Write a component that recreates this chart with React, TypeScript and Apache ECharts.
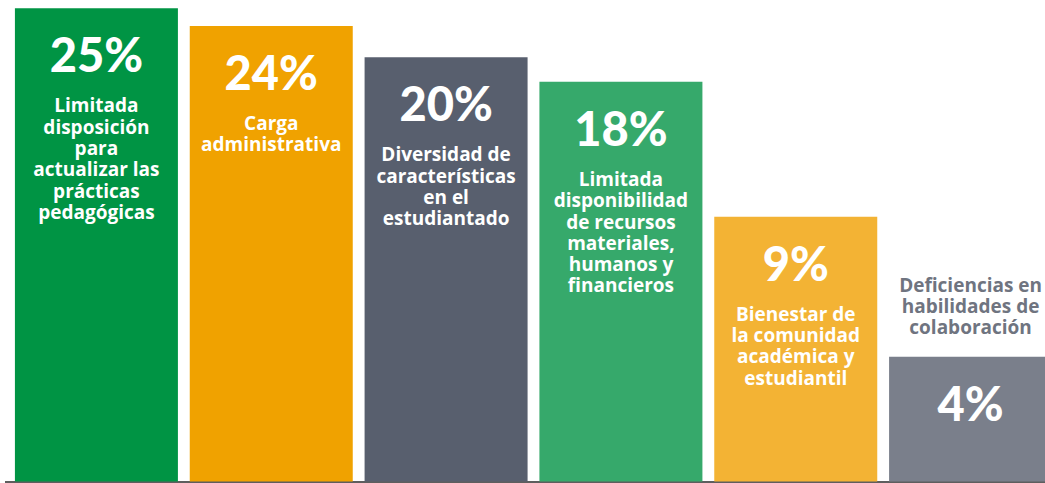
import React, { useEffect, useRef } from "react";
import * as echarts from "echarts";

// Percent values shown on each bar
const percents: number[] = [25, 24, 20, 18, 9, 4];
// Visual bar levels (0-100 scale) as drawn in the reference
const barLevels: number[] = [98.3, 94.6, 88.1, 83.0, 55.0, 25.9];
const categories: string[][] = [
  ["Limitada", "disposición", "para", "actualizar las", "prácticas", "pedagógicas"],
  ["Carga", "administrativa"],
  ["Diversidad de", "características", "en el", "estudiantado"],
  ["Limitada", "disponibilidad", "de recursos", "materiales,", "humanos y", "financieros"],
  ["Bienestar de", "la comunidad", "académica y", "estudiantil"],
  ["Deficiencias en", "habilidades de", "colaboración"],
];
const barColors: string[] = ["#009444", "#F0A200", "#585F6E", "#36A96B", "#F3B334", "#7A7F8B"];

const PFONT = "Lato";
const DFONT = "Open Sans";

export default function App() {
  const ref = useRef<HTMLDivElement>(null);
  useEffect(() => {
    if (!ref.current) return;
    const chart = echarts.init(ref.current, undefined, { renderer: "svg" });
    const last = categories.length - 1;
    const mainData = barLevels.map((v, i) => {
      const pct = `{p|${percents[i]}%}`;
      const desc = i === last ? "" : "\n" + categories[i].map((l) => `{d|${l}}`).join("\n");
      return {
        value: v,
        itemStyle: { color: barColors[i] },
        label: { formatter: pct + desc },
      };
    });
    const overlayData = barLevels.map((v, i) => ({
      value: v,
      label:
        i === last
          ? { show: true, formatter: categories[i].map((l) => `{g|${l}}`).join("\n") }
          : { show: false },
    }));
    chart.setOption({
      animation: false,
      grid: { left: 9, top: 0, width: 1049, height: 481.5 },
      xAxis: {
        type: "category",
        data: categories.map((c) => c.join(" ")),
        axisLine: { show: false },
        axisTick: { show: false },
        axisLabel: { show: false },
      },
      yAxis: { type: "value", min: 0, max: 100, show: false, splitLine: { show: false } },
      series: [
        {
          type: "bar",
          barWidth: 163,
          barGap: "-100%",
          data: mainData,
          silent: true,
          label: {
            show: true,
            position: "insideTop",
            distance: 5.5,
            align: "center",
            rich: {
              p: { fontFamily: PFONT, fontWeight: 900, fontSize: 47, lineHeight: 81, color: "#fff", align: "center" },
              d: { fontFamily: DFONT, fontWeight: 700, fontSize: 19, lineHeight: 21.3, color: "#fff", align: "center" },
            },
          },
        },
        {
          type: "bar",
          barWidth: 163,
          barGap: "-100%",
          data: overlayData,
          silent: true,
          itemStyle: { color: "rgba(0,0,0,0)" },
          label: {
            position: "top",
            distance: 19,
            align: "center",
            rich: {
              g: { fontFamily: DFONT, fontWeight: 700, fontSize: 19, lineHeight: 21.3, color: "#6F7480", align: "center" },
            },
          },
        },
      ],
      graphic: [
        {
          type: "line",
          shape: { x1: 5, y1: 482, x2: 1060, y2: 482 },
          style: { stroke: "rgba(40,40,40,0.75)", lineWidth: 2 },
          silent: true,
        },
      ],
    });
    return () => chart.dispose();
  }, []);
  return (
    <div style={{ position: "absolute", left: 0, top: 0, width: 1045, height: 483, overflow: "hidden", background: "#fff" }}>
      <div ref={ref} style={{ width: 1060, height: 483 }} />
    </div>
  );
}
